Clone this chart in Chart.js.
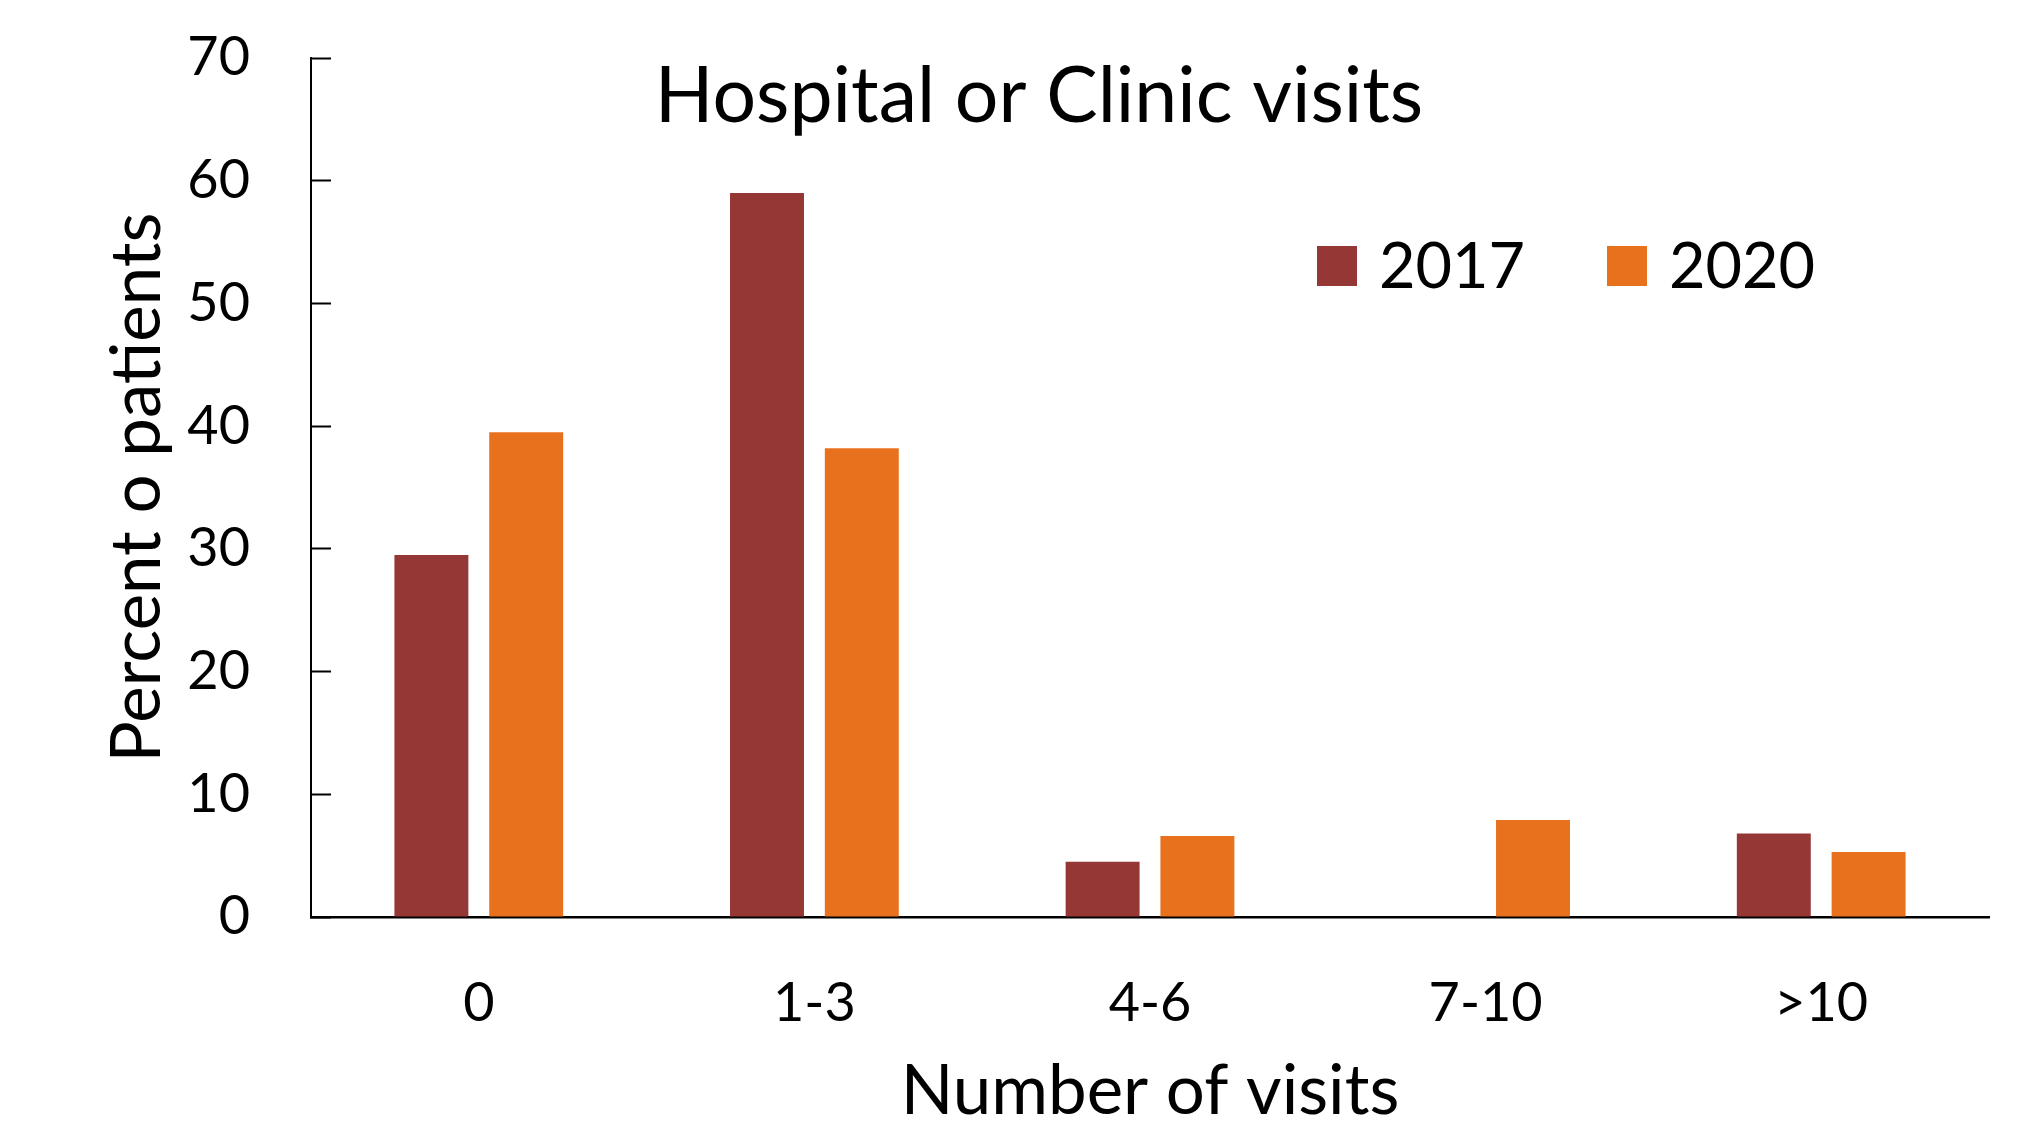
<!DOCTYPE html>
<html>
<head>
<meta charset="utf-8">
<script src="https://cdn.jsdelivr.net/npm/chart.js@4.4.1/dist/chart.umd.min.js"></script>
<style>
    html, body { margin: 0; padding: 0; background: #fff; }
    #wrap { width: 2044px; height: 1129px; position: relative; }
</style>
</head>
<body>
<div id="wrap"><canvas id="visitsChart"></canvas></div>
<script>
// Hospital / clinic visits per patient
const categories = ['0', '1-3', '4-6', '7-10', '>10'];
const years = ['2017', '2020'];
const visits2017 = [29.5, 59, 4.5, 0, 6.8];
const visits2020 = [39.5, 38.2, 6.6, 7.9, 5.3];
const yMax = 70;
const yStep = 10;

const colors = ['#953735', '#E8711E'];

Chart.defaults.font.family = 'Lato';
Chart.defaults.color = '#000';

// Title and legend are drawn inside the plot area
const insideText = {
    id: 'insideText',
    afterDraw(chart) {
        const ctx = chart.ctx;
        ctx.save();
        ctx.fillStyle = '#000';
        ctx.textBaseline = 'middle';
        ctx.textAlign = 'center';
        ctx.font = '77px Lato';
        ctx.fillText('Hospital or Clinic visits', 1039, 97);

        const boxX = [1317, 1607];
        ctx.font = '63px Lato';
        ctx.textAlign = 'left';
        chart.data.datasets.forEach((ds, i) => {
            ctx.fillStyle = ds.backgroundColor;
            ctx.fillRect(boxX[i], 246, 40, 40);
            ctx.fillStyle = '#000';
            ctx.fillText(ds.label, boxX[i] + 62, 268);
        });
        ctx.restore();
    }
};

new Chart(document.getElementById('visitsChart'), {
    type: 'bar',
    data: {
        labels: categories,
        datasets: [{
            label: years[0],
            data: visits2017,
            backgroundColor: colors[0],
            categoryPercentage: 0.565,
            barPercentage: 0.78
        }, {
            label: years[1],
            data: visits2020,
            backgroundColor: colors[1],
            categoryPercentage: 0.565,
            barPercentage: 0.78
        }]
    },
    options: {
        responsive: true,
        maintainAspectRatio: false,
        animation: false,
        layout: { padding: { top: 58, right: 55, left: 0, bottom: 0 } },
        scales: {
            x: {
                grid: { display: false },
                border: { color: '#000', width: 2.5 },
                ticks: { font: { size: 54 }, padding: 46, maxRotation: 0 },
                title: {
                    display: true,
                    text: 'Number of visits',
                    font: { size: 69 },
                    padding: { top: 0, bottom: -4 }
                },
                afterFit: s => { s.height = 212; }
            },
            y: {
                min: 0,
                max: yMax,
                ticks: { stepSize: yStep, font: { size: 54 }, padding: 81 },
                grid: {
                    drawOnChartArea: false,
                    drawTicks: true,
                    tickLength: -20,
                    tickWidth: 2,
                    color: '#000'
                },
                border: { color: '#000', width: 2 },
                title: {
                    display: true,
                    text: 'Percent o patients',
                    font: { size: 69 },
                    padding: { top: 96, bottom: 0 }
                },
                afterFit: s => {
                    s.width = 311;
                    s.paddingTop = 0;
                    s.paddingBottom = 0;
                }
            }
        },
        plugins: {
            legend: { display: false },
            tooltip: { enabled: false }
        }
    },
    plugins: [insideText]
});
</script>
</body>
</html>
